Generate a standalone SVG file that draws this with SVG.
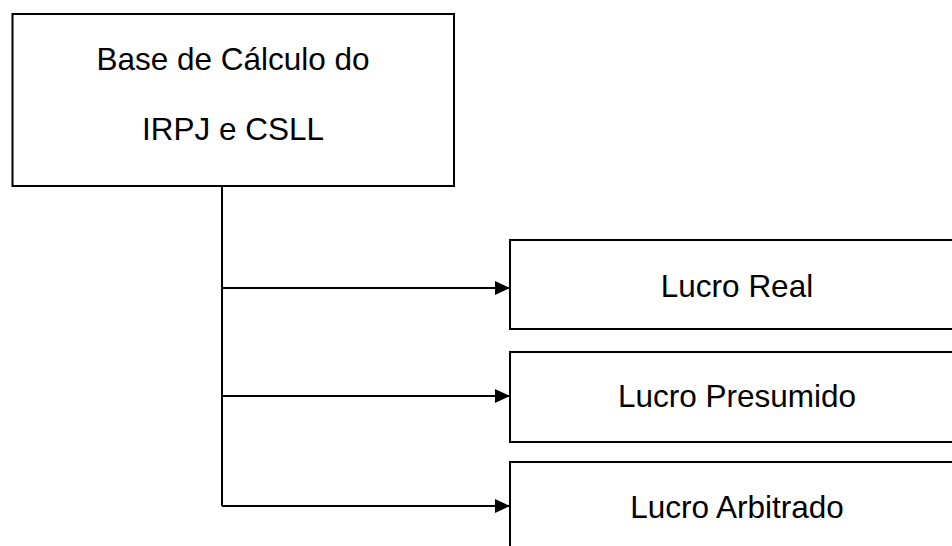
<svg xmlns="http://www.w3.org/2000/svg" width="952" height="546" viewBox="0 0 952 546">
<style>
.box{fill:#fff;stroke:#000;stroke-width:2}
.t{font-family:"Liberation Sans",Arial,sans-serif;font-size:31.5px;fill:#000;text-anchor:middle}
.c{fill:none;stroke:#000;stroke-width:2}
</style>
<defs>
<marker id="arr" viewBox="0 0 15 14" refX="15" refY="7" markerUnits="userSpaceOnUse" markerWidth="15" markerHeight="14" orient="auto">
<path d="M0,0 L15,7 L0,14 Z" fill="#000"/>
</marker>
</defs>
<rect width="952" height="546" fill="#fff"/>
<g id="connectors">
<path class="c" d="M222,186 V506"/>
<path class="c" d="M222,288 H510" marker-end="url(#arr)"/>
<path class="c" d="M222,396 H510" marker-end="url(#arr)"/>
<path class="c" d="M222,506 H510" marker-end="url(#arr)"/>
</g>
<g id="base">
<rect class="box" x="12.5" y="14" width="441.5" height="172"/>
<text class="t" x="233" y="70">Base de Cálculo do</text>
<text class="t" x="233" y="140">IRPJ e CSLL</text>
</g>
<g id="real">
<rect class="box" x="510" y="240" width="454" height="89"/>
<text class="t" x="737" y="297">Lucro Real</text>
</g>
<g id="presumido">
<rect class="box" x="510" y="352" width="454" height="90"/>
<text class="t" x="737" y="407">Lucro Presumido</text>
</g>
<g id="arbitrado">
<rect class="box" x="510" y="462" width="454" height="90"/>
<text class="t" x="737" y="518">Lucro Arbitrado</text>
</g>
</svg>
